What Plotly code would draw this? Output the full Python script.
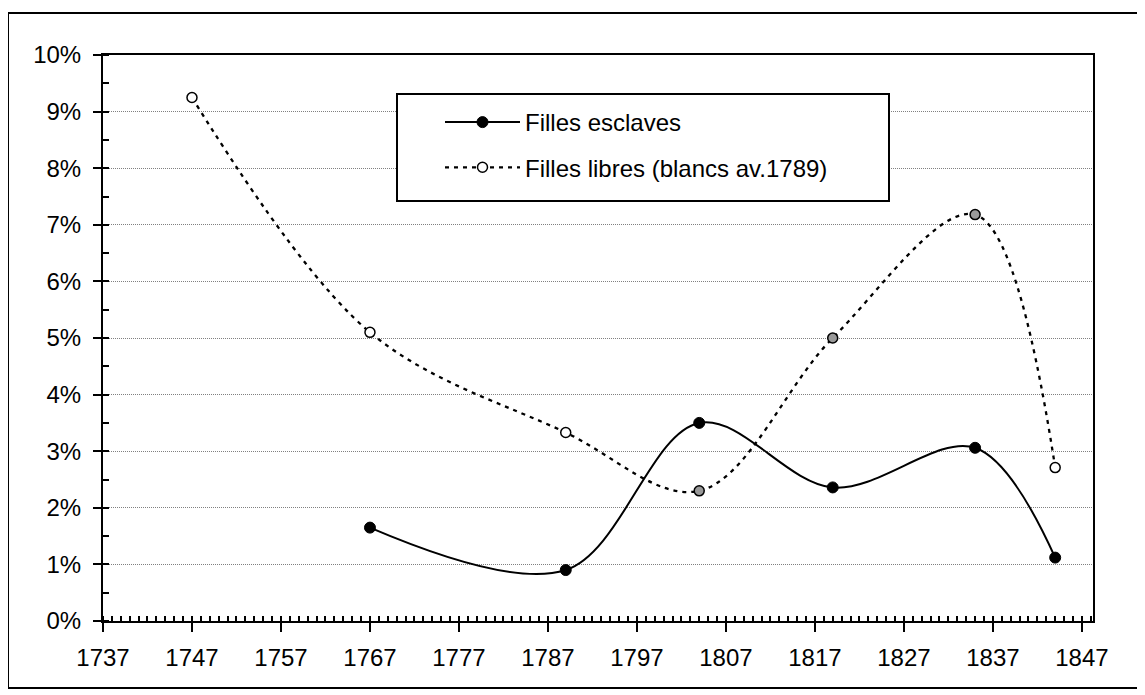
import plotly.graph_objects as go

# Data
years_slaves = [1767, 1789, 1804, 1819, 1835, 1844]
pct_slaves = [0.0165, 0.0090, 0.0350, 0.0236, 0.0306, 0.0112]

years_free = [1747, 1767, 1789, 1804, 1819, 1835, 1844]
pct_free = [0.0925, 0.0510, 0.0333, 0.0230, 0.0500, 0.0718, 0.0271]
free_marker_colors = ["white", "white", "white", "#999999", "#999999", "#999999", "white"]

name_slaves = "Filles esclaves"
name_free = "Filles libres (blancs av.1789)"

FONT = "Arial, 'Liberation Sans', sans-serif"
FS = 24

fig = go.Figure()
fig.add_trace(go.Scatter(
    x=years_slaves, y=pct_slaves, name=name_slaves, mode="lines+markers",
    line=dict(color="black", width=2, shape="spline", smoothing=1),
    marker=dict(symbol="circle", size=11, color="black", line=dict(color="black", width=1)),
    legendgroup="a",
))
fig.add_trace(go.Scatter(
    x=years_free, y=pct_free, name=name_free, mode="lines+markers",
    line=dict(color="black", width=2.3, dash="4px,5px", shape="spline", smoothing=1),
    marker=dict(symbol="circle", size=10, color=free_marker_colors, line=dict(color="black", width=1.5)),
    legendgroup="b",
))

# page has an 8px body margin: figure coords = screen coords - 8
OFF = 8
W, H = 1145 - OFF, 695 - OFF
L, R, T, B = 103 - OFF, 1093 - OFF, 55 - OFF, 621 - OFF
pw, ph = R - L, B - T

def px_x(p):  # p in screen pixels
    return (p - OFF - L) / pw

def px_y(p):
    return (B - (p - OFF)) / ph

fig.update_layout(
    width=W, height=H,
    margin=dict(l=L, r=W - R, t=T, b=H - B),
    paper_bgcolor="white", plot_bgcolor="white",
    font=dict(family=FONT, size=FS, color="black"),
    showlegend=True,
    legend=dict(
        x=px_x(440), y=px_y(100), xanchor="left", yanchor="top",
        bgcolor="rgba(0,0,0,0)", borderwidth=0,
        itemwidth=75, tracegroupgap=11, traceorder="grouped",
        font=dict(family=FONT, size=FS, color="black"),
    ),
    shapes=[
        dict(type="rect", xref="paper", yref="paper",
             x0=px_x(8), x1=px_x(1138), y0=px_y(688), y1=px_y(13),
             line=dict(color="black", width=2), fillcolor="rgba(0,0,0,0)", layer="below"),
        dict(type="rect", xref="paper", yref="paper",
             x0=px_x(397), x1=px_x(889), y0=px_y(201), y1=px_y(94),
             line=dict(color="black", width=2), fillcolor="white", layer="above"),
    ],
)

fig.update_xaxes(
    range=[1737, 1848.25], tick0=1737, dtick=10, tickmode="linear",
    showgrid=False, zeroline=False,
    showline=True, linecolor="black", linewidth=2, mirror=True,
    ticks="outside", ticklen=9, tickwidth=2, tickcolor="black",
    ticklabelstandoff=5,
    minor=dict(ticks="inside", dtick=1, tick0=1737, ticklen=5, tickwidth=1.5, tickcolor="black", showgrid=False),
    tickfont=dict(family=FONT, size=FS, color="black"),
)
fig.update_yaxes(
    range=[0, 0.10], tick0=0, dtick=0.01, tickmode="linear", tickformat=".0%",
    showgrid=True, gridcolor="#808080", gridwidth=1, griddash="1px,1px",
    zeroline=False,
    showline=True, linecolor="black", linewidth=2, mirror=True,
    ticks="outside", ticklen=8, tickwidth=2, tickcolor="black",
    ticklabelstandoff=7,
    minor=dict(ticks="inside", dtick=0.005, tick0=0, ticklen=6, tickwidth=1.5, tickcolor="black", showgrid=False),
    tickfont=dict(family=FONT, size=FS, color="black"),
)

fig.write_html("out.html")
